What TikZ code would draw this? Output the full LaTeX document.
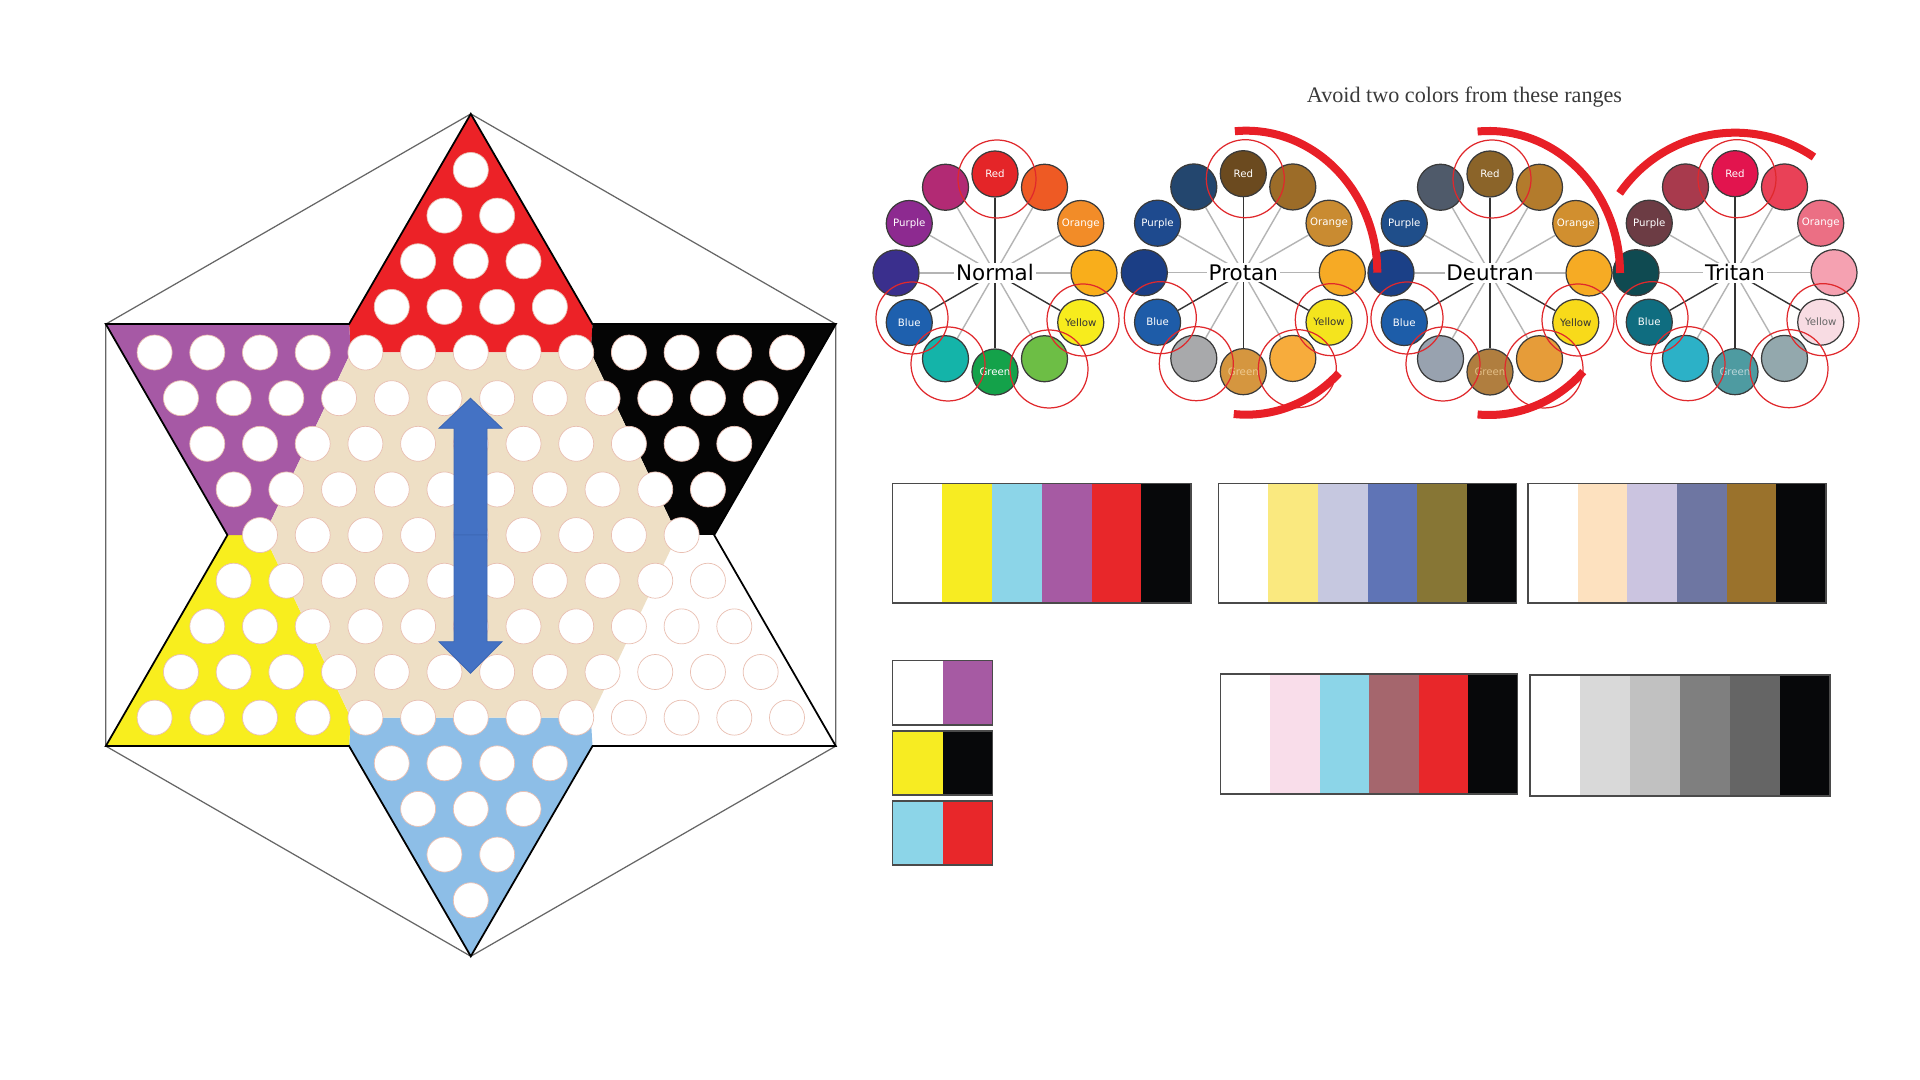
\documentclass[tikz,border=0pt]{standalone}
\usepackage{fontspec}
\setmainfont{Liberation Serif}
\newfontfamily\dejavu{DejaVu Sans}
\usetikzlibrary{calc}
\pgfdeclarelayer{bglayer}
\pgfdeclarelayer{spokelayer}
\pgfsetlayers{bglayer,spokelayer,main}

% board colours
\definecolor{redT}{HTML}{EC2227}
\definecolor{blackT}{HTML}{050505}
\definecolor{purpleT}{HTML}{A659A5}
\definecolor{yellowT}{HTML}{F8EE1E}
\definecolor{blueT}{HTML}{8DBEE7}
\definecolor{beige}{HTML}{EEDFC5}
\definecolor{holeline}{HTML}{E9BFB2}
\definecolor{arrowblue}{HTML}{4472C4}
\definecolor{arrowedge}{HTML}{3D67B4}
% wheel colours
\definecolor{wheelline}{HTML}{3A3A3A}
\definecolor{spokedark}{HTML}{333333}
\definecolor{spokelight}{HTML}{B4B4B4}
\definecolor{ringred}{HTML}{E0282C}
\definecolor{arcred}{HTML}{E81F27}
\definecolor{titlegray}{HTML}{3A3A3A}
% Normal
\definecolor{N0}{HTML}{E42528}\definecolor{N1}{HTML}{EE5A24}\definecolor{N2}{HTML}{F28C28}
\definecolor{N3}{HTML}{F9AE1B}\definecolor{N4}{HTML}{F7EC1D}\definecolor{N5}{HTML}{6DBE45}
\definecolor{N6}{HTML}{14A24A}\definecolor{N7}{HTML}{14B4A9}\definecolor{N8}{HTML}{1E60AE}
\definecolor{N9}{HTML}{3A2F8D}\definecolor{N10}{HTML}{8D2A90}\definecolor{N11}{HTML}{B22A74}
\definecolor{N-yt}{HTML}{333333}\definecolor{N-gt}{HTML}{FFFFFF}
% Protan
\definecolor{P0}{HTML}{6B4A1F}\definecolor{P1}{HTML}{9C6C28}\definecolor{P2}{HTML}{C98B31}
\definecolor{P3}{HTML}{F6AA25}\definecolor{P4}{HTML}{F4E41E}\definecolor{P5}{HTML}{F7AC3C}
\definecolor{P6}{HTML}{D5963F}\definecolor{P7}{HTML}{A8A9AB}\definecolor{P8}{HTML}{1E5CA8}
\definecolor{P9}{HTML}{1B3E85}\definecolor{P10}{HTML}{1E4A8E}\definecolor{P11}{HTML}{23466E}
\definecolor{P-yt}{HTML}{333333}\definecolor{P-gt}{HTML}{EFC98F}
% Deutran
\definecolor{D0}{HTML}{8B6429}\definecolor{D1}{HTML}{B37B2C}\definecolor{D2}{HTML}{D18F2F}
\definecolor{D3}{HTML}{F6AB24}\definecolor{D4}{HTML}{F8DA1A}\definecolor{D5}{HTML}{E69C39}
\definecolor{D6}{HTML}{B07E3F}\definecolor{D7}{HTML}{98A2AF}\definecolor{D8}{HTML}{1D5DA9}
\definecolor{D9}{HTML}{1B4087}\definecolor{D10}{HTML}{1F4E8A}\definecolor{D11}{HTML}{4F5A6A}
\definecolor{D-yt}{HTML}{333333}\definecolor{D-gt}{HTML}{E2BD85}
% Tritan
\definecolor{T0}{HTML}{E2144E}\definecolor{T1}{HTML}{E94157}\definecolor{T2}{HTML}{EB6F84}
\definecolor{T3}{HTML}{F5A1B1}\definecolor{T4}{HTML}{F8DCE3}\definecolor{T5}{HTML}{93A8AD}
\definecolor{T6}{HTML}{4E9BA1}\definecolor{T7}{HTML}{2CB1C7}\definecolor{T8}{HTML}{0F6D80}
\definecolor{T9}{HTML}{0F4A51}\definecolor{T10}{HTML}{6C3C44}\definecolor{T11}{HTML}{A83A4D}
\definecolor{T-yt}{HTML}{666666}\definecolor{T-gt}{HTML}{B9D6D9}
% bars
\definecolor{barframe}{HTML}{4A4A4A}
\definecolor{bY}{HTML}{F7EC22}\definecolor{bLB}{HTML}{8CD5E8}\definecolor{bPu}{HTML}{A65AA3}
\definecolor{bR}{HTML}{E8272A}\definecolor{bK}{HTML}{07080A}
\definecolor{pY}{HTML}{FAE97F}\definecolor{pL}{HTML}{C6C8E0}\definecolor{pB}{HTML}{5F74B6}
\definecolor{pO}{HTML}{877635}
\definecolor{dPe}{HTML}{FDE1BF}\definecolor{dL}{HTML}{CBC4E0}\definecolor{dB}{HTML}{6E76A2}
\definecolor{dBr}{HTML}{9A722C}
\definecolor{tPk}{HTML}{F9DDEA}\definecolor{tMa}{HTML}{A5666D}
\definecolor{gA}{HTML}{D9D9D9}\definecolor{gB}{HTML}{C1C1C1}\definecolor{gC}{HTML}{7F7F7F}
\definecolor{gD}{HTML}{656565}

\tikzset{
  hole/.style={circle, fill=white, draw=holeline, line width=0.2pt, minimum size=0.35cm, inner sep=0pt},
  hexline/.style={draw=black!60, line width=0.35pt},
  starline/.style={draw=black, line width=0.5pt, line join=miter},
  wcirc/.style={circle, draw=wheelline, line width=0.35pt, minimum size=0.46cm, inner sep=0pt,
    font=\dejavu\fontsize{2.9}{3}\selectfont},
  wlabel/.style={fill=white, inner sep=0.5pt, font=\dejavu\fontsize{6.1}{7}\selectfont, text=black},
  spokedk/.style={draw=spokedark, line width=0.4pt},
  spokelt/.style={draw=spokelight, line width=0.4pt},
  ring/.style={draw=ringred, line width=0.35pt},
  bigarc/.style={draw=arcred, line width=0.08cm},
  barline/.style={draw=barframe, line width=0.45pt},
  arrowpart/.style={fill=arrowblue, draw=arrowedge, line width=0.25pt, line join=miter},
}

\newcommand\cwheel[4]{%
  \coordinate (#1-c) at (#2,#3);
  \foreach \i/\a/\lab in {0/-90/Red,1/-60/{},2/-30/Orange,3/0/{},4/30/Yellow,5/60/{},6/90/Green,7/120/{},8/150/Blue,9/180/{},10/-150/Purple,11/-120/{}}{%
    \ifnum\i=4 \def\tc{#1-yt}\else\ifnum\i=6 \def\tc{#1-gt}\else\def\tc{white}\fi\fi
    \node[wcirc, fill=#1\i, text=\tc] (#1-\i) at ($(#1-c)+(\a:99)$) {\lab};
  }
  \node[wlabel] (#1-lab) at (#1-c) {#4};
  \begin{pgfonlayer}{spokelayer}
    \foreach \i/\sp in {0/spokedk,1/spokelt,2/spokelt,3/spokelt,4/spokedk,5/spokelt,6/spokedk,7/spokelt,8/spokedk,9/spokelt,10/spokelt,11/spokelt}{%
      \draw[\sp] (#1-c) -- (#1-\i);
    }
  \end{pgfonlayer}
  \draw[ring] ($(#1-c)+(2,-94)$) circle[radius=39];
  \draw[ring] ($(#1-c)+(-83,45)$) circle[radius=36];
  \draw[ring] ($(#1-c)+(88,47)$) circle[radius=36];
  \draw[ring] ($(#1-c)+(-47,91)$) circle[radius=37];
  \draw[ring] ($(#1-c)+(54,96)$) circle[radius=39];
}

\newcommand\swatchbar[6]{%
  \foreach \c [count=\j from 0] in {#6}{%
    \fill[\c] ({#2+(#4-#2)*\j/#1},#3) rectangle ({#2+(#4-#2)*(\j+1)/#1},#5);
  }
  \draw[barline] (#2,#3) rectangle (#4,#5);
}

\begin{document}
\begin{tikzpicture}[x=0.01cm,y=-0.01cm]
\useasboundingbox (0,0) rectangle (1920,1080);
\begin{pgfonlayer}{bglayer}
  \fill[white] (0,0) rectangle (1920,1080);
\end{pgfonlayer}

% ---------------- board ----------------
\fill[redT] (470.8,113.9) -- (592.5,324.1) -- (590.8,352.5) -- (350.8,352.5) -- (349.1,324.1) -- cycle;
\fill[blackT] (592.5,324.1) -- (835.8,324.1) -- (714.2,535.1) -- (677.5,535.1) -- (590.8,352.5) -- cycle;
\fill[white] (714.2,535.1) -- (835.8,746.1) -- (592.5,746.1) -- (590.8,717.7) -- (677.5,535.1) -- cycle;
\fill[blueT] (592.5,746.1) -- (470.8,956.3) -- (349.1,746.1) -- (350.8,717.7) -- (590.8,717.7) -- cycle;
\fill[yellowT] (349.1,746.1) -- (105.8,746.1) -- (227.4,535.1) -- (264.1,535.1) -- (350.8,717.7) -- cycle;
\fill[purpleT] (227.4,535.1) -- (105.8,324.1) -- (349.1,324.1) -- (350.8,352.5) -- (264.1,535.1) -- cycle;
\fill[beige] (350.8,352.5) -- (590.8,352.5) -- (677.5,535.1) -- (590.8,717.7) -- (350.8,717.7) -- (264.1,535.1) -- cycle;

\draw[hexline] (470.8,113.9) -- (835.8,324.1) -- (835.8,746.1) -- (470.8,956.3) -- (105.8,746.1) -- (105.8,324.1) -- cycle;
\draw[starline] (470.8,113.9) -- (592.5,324.1) -- (835.8,324.1) -- (714.2,535.1) -- (835.8,746.1) -- (592.5,746.1)
  -- (470.8,956.3) -- (349.1,746.1) -- (105.8,746.1) -- (227.4,535.1) -- (105.8,324.1) -- (349.1,324.1) -- cycle;

\foreach \r in {-8,...,8}{%
  \pgfmathtruncatemacro\ar{abs(\r)}%
  \pgfmathtruncatemacro\n{(\ar>4) ? (9-\ar) : (9+\ar)}%
  \pgfmathtruncatemacro\nm{\n-1}%
  \foreach \k in {0,...,\nm}{%
    \node[hole] (h\r-\k) at ({470.8+52.7*(\k-\nm/2)},{535.1+45.64*\r}) {};
  }
}

\draw[arrowpart] (470.5,398.3) -- (502,428.3) -- (487,428.3) -- (487,535) -- (454,535) -- (454,428.3) -- (439,428.3) -- cycle;
\draw[arrowpart] (470.5,673.3) -- (502,641.7) -- (487,641.7) -- (487,535) -- (454,535) -- (454,641.7) -- (439,641.7) -- cycle;

% ---------------- wheels ----------------
\node[font=\fontsize{6.3}{7.5}\selectfont, text=titlegray, inner sep=0pt] (title) at (1464.5,97.5) {Avoid two colors from these ranges};

\cwheel{N}{995}{273}{Normal}
\cwheel{P}{1243.3}{272.7}{Protan}
\cwheel{D}{1490}{273}{Deutran}
\cwheel{T}{1735}{272.7}{Tritan}

\draw[bigarc] ($(P-c)+(3,0)+(-95:131 and 142)$) arc[start angle=-95, end angle=0, x radius=131, y radius=142];
\draw[bigarc] ($(P-c)+(3,0)+(45:131 and 142)$) arc[start angle=45, end angle=95.5, x radius=131, y radius=142];
\draw[bigarc] ($(D-c)+(-1,0)+(-95:131 and 142)$) arc[start angle=-95, end angle=0, x radius=131, y radius=142];
\draw[bigarc] ($(D-c)+(-1,0)+(44:131 and 142)$) arc[start angle=44, end angle=95, x radius=131, y radius=142];
\draw[bigarc] ($(T-c)+(-145.5:140)$) arc[start angle=-145.5, end angle=-55.7, radius=140];

% ---------------- swatches ----------------
\swatchbar{6}{892.5}{483.5}{1191}{603}{white,bY,bLB,bPu,bR,bK}
\swatchbar{6}{1218.5}{483.5}{1516.5}{603}{white,pY,pL,pB,pO,bK}
\swatchbar{6}{1528}{483.5}{1826}{603}{white,dPe,dL,dB,dBr,bK}
\swatchbar{6}{1220.5}{674}{1517.5}{794}{white,tPk,bLB,tMa,bR,bK}
\swatchbar{6}{1530}{675}{1830}{796}{white,gA,gB,gC,gD,bK}
\swatchbar{2}{892.7}{660.7}{992.7}{725}{white,bPu}
\swatchbar{2}{892.7}{731}{992.7}{795}{bY,bK}
\swatchbar{2}{892.7}{801}{992.7}{865}{bLB,bR}
\end{tikzpicture}
\end{document}
